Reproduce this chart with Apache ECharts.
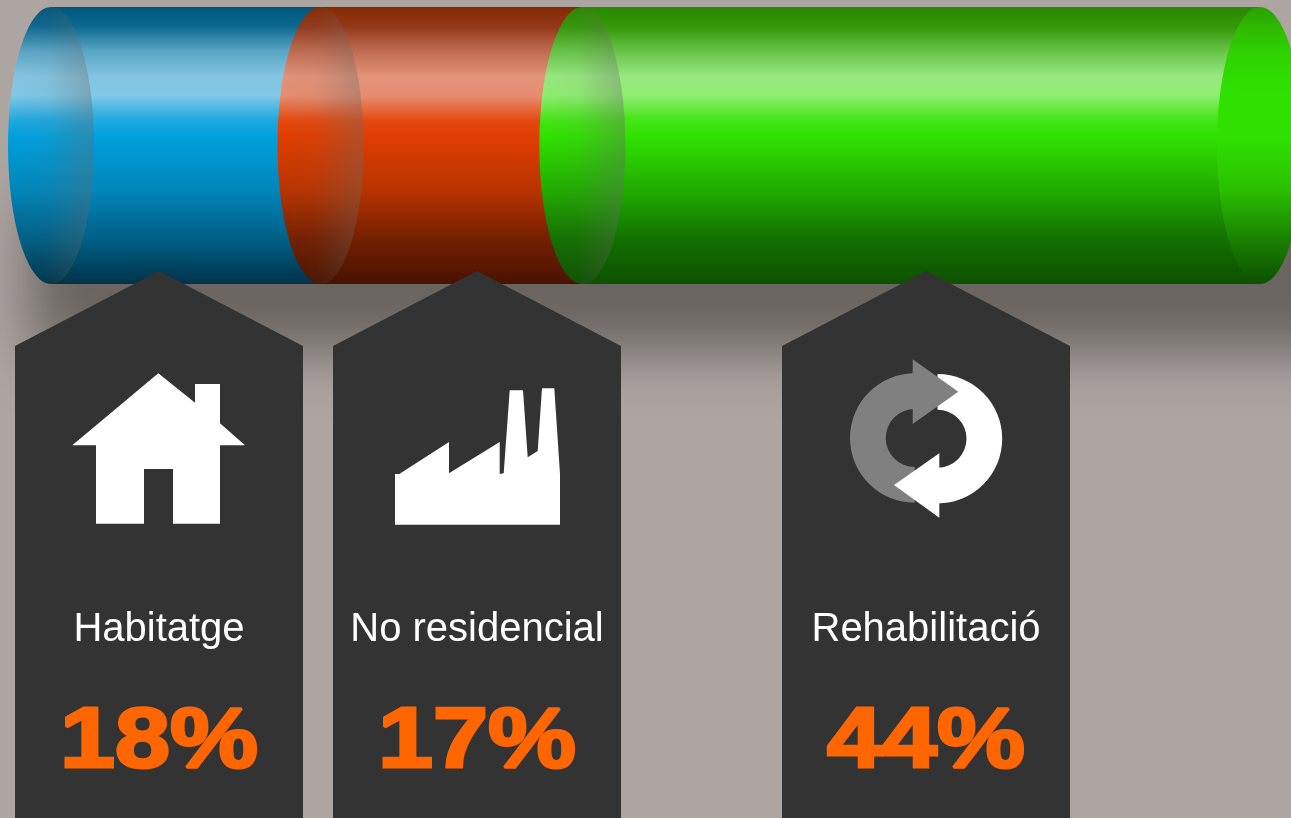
<!DOCTYPE html>
<html>
<head>
<meta charset="utf-8">
<title>Habitatge, No residencial, Rehabilitació</title>
<script src="https://cdn.jsdelivr.net/npm/echarts@6/dist/echarts.min.js"></script>
<style>
  html, body { margin: 0; padding: 0; background: #ada5a2; }
  #chart { width: 1291px; height: 818px; }
</style>
</head>
<body>
<div id="chart"></div>
<script>
const categories = ['Habitatge', 'No residencial', 'Rehabilitació'];
// segment lengths as drawn in the cylinder; 17.5 is what the picture shows for the "18%" block
const segmentValues = [17.5, 17, 44];
const percentLabels = ['18%', '17%', '44%'];

const gradientStops = [0, 0.07, 0.16, 0.25, 0.32, 0.41, 0.47, 0.66, 0.84, 1];
const blueRamp = ['#00577c', '#0c6890', '#5aa6c6', '#84c5e0', '#7fc8e6', '#1ea8e0', '#00a0dc', '#0086bb', '#005f85', '#00334a'];
const redRamp = ['#842a00', '#92381a', '#c06c50', '#e29378', '#e68d70', '#e4490f', '#df3d00', '#b93400', '#731f00', '#481300'];
const greenRamp = ['#2a8a00', '#349608', '#68c448', '#97e880', '#8eee70', '#44e415', '#30e000', '#21ac00', '#137000', '#0e5000'];
const ramps = [blueRamp, redRamp, greenRamp];

const capWidth = 43;

const verticalFill = colors => ({
  type: 'linear', x: 0, y: 0, x2: 0, y2: 1,
  colorStops: colors.map((color, i) => ({ offset: gradientStops[i], color }))
});

const innerCapFill = {
  type: 'linear', x: 0, y: 0, x2: 1, y2: 0,
  colorStops: [
    { offset: 0, color: 'rgba(105,105,105,0)' },
    { offset: 0.45, color: 'rgba(105,105,105,0.06)' },
    { offset: 1, color: 'rgba(105,105,105,0.38)' }
  ]
};

const endCapRamp = ['#2aa000', '#2fb800', '#2fd000', '#30dc00', '#30e000', '#30e000', '#30e000', '#2ac000', '#1a8000', '#0e5000'];

const renderSegment = (params, api) => {
  const start = api.coord([api.value(0), 0]);
  const end = api.coord([api.value(1), 0]);
  const height = api.size([0, 1])[1];
  const cy = start[1];
  const top = cy - height / 2;
  const fill = verticalFill(ramps[params.dataIndex]);
  const children = [
    { type: 'rect', shape: { x: start[0], y: top, width: end[0] - start[0], height }, style: { fill } },
    { type: 'ellipse', shape: { cx: start[0], cy, rx: capWidth, ry: height / 2 }, style: { fill } },
    { type: 'ellipse', shape: { cx: start[0], cy, rx: capWidth, ry: height / 2 }, style: { fill: innerCapFill } }
  ];
  if (params.dataIndex === categories.length - 1) {
    children.push({
      type: 'ellipse',
      shape: { cx: end[0], cy, rx: capWidth, ry: height / 2 },
      style: { fill: verticalFill(endCapRamp) }
    });
  }
  return { type: 'group', children };
};

// start and end of each segment along the axis
let running = 0;
const segmentData = segmentValues.map((value, i) => {
  const item = { name: categories[i], value: [running, running + value] };
  running += value;
  return item;
});

const whiteIcon = { fill: '#ffffff' };
const greyIcon = { fill: '#808080' };

const houseIcon = [{
  type: 'polygon',
  shape: { points: [[158.3, 373.3], [72.3, 445.3], [96, 445.3], [96, 523.7], [144, 523.7], [144, 469], [173, 469], [173, 523.7], [220, 523.7], [220, 445.3], [245, 445.3], [220, 423.3], [220, 384], [195, 384], [195, 402.7]] },
  style: whiteIcon
}];

const factoryIcon = [{
  type: 'polygon',
  shape: { points: [[395, 524.7], [395, 474], [399.3, 474], [449, 442], [449, 473.3], [499.7, 442], [499.7, 474], [503.7, 473.3], [509.7, 390.3], [523, 390.3], [527.7, 457.3], [537.7, 451], [542, 388.3], [554.3, 388.3], [560, 474], [560, 524.7]] },
  style: whiteIcon
}];

const recycleIcon = [
  { type: 'sector', shape: { cx: 937.5, cy: 438.7, r: 64.7, r0: 29, startAngle: -Math.PI / 2, endAngle: Math.PI / 2 }, style: whiteIcon },
  { type: 'sector', shape: { cx: 914.7, cy: 438, r: 64.7, r0: 29, startAngle: Math.PI / 2, endAngle: Math.PI * 1.5 }, style: greyIcon },
  { type: 'polygon', shape: { points: [[912.7, 359.3], [958.3, 391.7], [912.7, 424]] }, style: greyIcon },
  { type: 'polygon', shape: { points: [[939.3, 453.3], [894, 485], [939.3, 517.7]] }, style: whiteIcon }
];

const calloutCenters = [159, 477, 926];
const calloutIcons = [houseIcon, factoryIcon, recycleIcon];

const buildCallout = (center, i) => [
  {
    type: 'polygon',
    shape: { points: [[center, 271], [center + 144, 346], [center + 144, 818], [center - 144, 818], [center - 144, 346]] },
    style: { fill: '#333333' }
  },
  ...calloutIcons[i],
  {
    type: 'text',
    x: center,
    y: 630,
    style: {
      text: categories[i],
      fill: '#ffffff',
      font: '40px "Liberation Sans", Arial, sans-serif',
      textAlign: 'center',
      textVerticalAlign: 'middle'
    }
  },
  {
    type: 'text',
    x: center,
    y: 743,
    scaleX: 1.15,
    style: {
      text: percentLabels[i],
      fill: '#ff6600',
      stroke: '#ff6600',
      lineWidth: 3,
      lineJoin: 'round',
      font: 'bold 86px "Liberation Sans", Arial, sans-serif',
      textAlign: 'center',
      textVerticalAlign: 'middle'
    }
  }
].map(el => ({ ...el, z: 100 }));

const chart = echarts.init(document.getElementById('chart'), null, { renderer: 'canvas' });

chart.setOption({
  animation: false,
  backgroundColor: '#ada5a2',
  tooltip: { show: false },
  grid: { left: 51, right: 31, top: 7, bottom: 534 },
  xAxis: { type: 'value', min: 0, max: 78.5, show: false },
  yAxis: { type: 'category', data: [''], show: false },
  graphic: {
    elements: [
      // cast shadow under the cylinder, rect itself sits off canvas
      {
        type: 'rect',
        z: -1,
        shape: { x: -3000, y: 200, width: 2900, height: 152 },
        style: {
          fill: '#6a6561',
          shadowColor: '#6a6561',
          shadowBlur: 56,
          shadowOffsetX: 3030
        }
      },
      ...calloutCenters.flatMap(buildCallout)
    ]
  },
  series: [
    {
      type: 'custom',
      renderItem: renderSegment,
      encode: { x: [0, 1] },
      data: segmentData,
      silent: true
    }
  ]
});
</script>
</body>
</html>
